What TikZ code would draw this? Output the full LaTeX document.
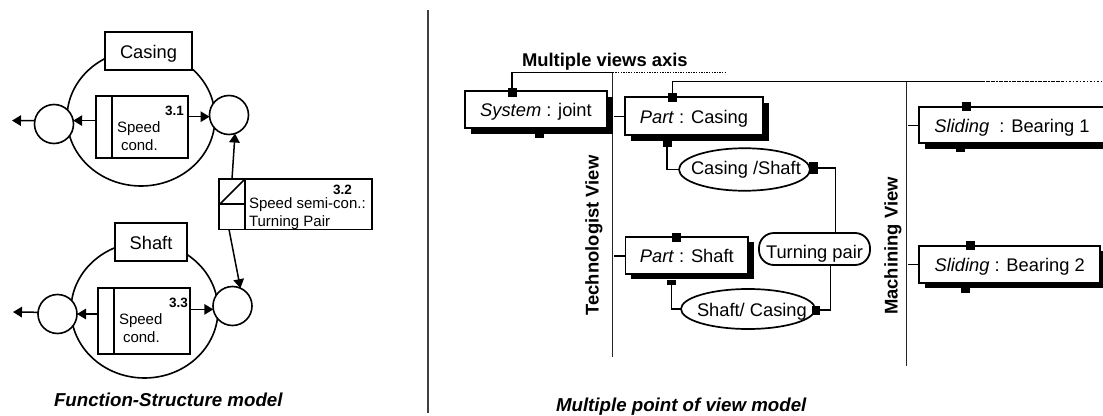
\documentclass[tikz,border=0pt]{standalone}
\usepackage{fontspec}
\setmainfont{Liberation Sans}
\usetikzlibrary{arrows.meta,shapes.geometric,shadows}
\tikzset{
  big/.style={font=\fontsize{18.3}{20}\selectfont},
  small/.style={font=\fontsize{15}{17}\selectfont},
  numb/.style={font=\fontsize{13.5}{15}\bfseries\selectfont},
  lab/.style={inner sep=0pt,outer sep=0pt,anchor=base west},
  ln/.style={line width=1.5pt,draw=black},
  outerring/.style={ellipse,draw,line width=1.6pt,inner sep=0pt,outer sep=0pt},
  port/.style={circle,draw,fill=white,line width=1.6pt,minimum size=39pt,inner sep=0pt,outer sep=0pt},
  plain/.style={rectangle,draw,fill=white,line width=1.7pt,inner sep=0pt,outer sep=0pt},
  tag/.style={plain,big,text height=14pt,text depth=0pt},
  view/.style={plain,big,line width=1.8pt,text height=14pt,text depth=0pt,
     drop shadow={shadow xshift=5.5pt,shadow yshift=-5.5pt,fill=black,opacity=1}},
  oval/.style={ellipse,draw,fill=white,line width=1.7pt,inner sep=0pt,outer sep=0pt},
  sq/.style={rectangle,fill=black,inner sep=0pt,outer sep=0pt},
  arr/.style={ln,-{Triangle[length=9pt,width=10.5pt]}},
  axisline/.style={line width=1.5pt,draw=black!85},
}
\begin{document}
\begin{tikzpicture}[x=1pt,y=-1pt]
\clip (0,0) rectangle (1103,415);
% page separator
\coordinate (s1) at (428,9.5); \coordinate (s2) at (428,413);
\draw[line width=1.7pt,black!75] (s1) -- (s2);

% ---------- function-structure: casing
\node[outerring,minimum width=148pt,minimum height=136pt] (ring1) at (141,118) {};
\node[tag,minimum width=87pt,minimum height=38pt] (casing) at (148.5,51) {Casing};
\node[plain,minimum width=92pt,minimum height=62pt] (b31) at (142,127) {};
\draw[line width=1.7pt] (112,96) -- (112,158);
\node[numb,inner sep=0pt,anchor=base east] (n31) at (184,115) {3.1};
\node[small,lab] (t31a) at (117,132) {Speed};
\node[small,lab] (t31b) at (121,150) {cond.};
\node[port] (r1) at (229,115) {};
\node[port] (l1) at (54,124) {};
\coordinate (o1) at (12,120.6);
\draw[arr] (b31.west |- l1.10) -- (l1.10);
\draw[arr] (l1.170) -- (o1);
\draw[arr] (b31.east |- r1.185) -- (r1.185);

% ---------- function-structure: shaft
\node[outerring,minimum width=147pt,minimum height=136pt] (ring2) at (144.5,310) {};
\node[tag,minimum width=72pt,minimum height=38pt] (shaft) at (151,242) {Shaft};
\node[plain,minimum width=92pt,minimum height=66pt] (b33) at (144,321) {};
\draw[line width=1.7pt] (114,288) -- (114,354);
\node[numb,inner sep=0pt,anchor=base east] (n33) at (188,307) {3.3};
\node[small,lab] (t33a) at (119,324) {Speed};
\node[small,lab] (t33b) at (123,342) {cond.};
\node[port] (r2) at (232.5,306) {};
\node[port] (l2) at (57.5,314) {};
\coordinate (o2) at (13,312);
\draw[arr] (b33.west |- l2.east) -- (l2.east);
\draw[arr] (l2.175) -- (o2);
\draw[arr] (b33.east |- r2.190) -- (r2.190);

% ---------- function 3.2
\node[plain,minimum width=153pt,minimum height=50.5pt] (b32) at (295.5,204.25) {};
\draw[line width=1.7pt] (245,179) -- (245,229.5);
\draw[line width=1.7pt] (219,204) -- (245,204);
\draw[line width=1.7pt] (220,204) -- (245,179);
\node[numb,inner sep=0pt,anchor=base east] (n32) at (352,194) {3.2};
\node[small,lab] (t32a) at (249,208) {Speed semi-con.:};
\node[small,lab] (t32b) at (249,226.5) {Turning Pair};
\coordinate (p1) at (232,179);
\coordinate (p2) at (229,229.5);
\draw[arr] (p1) -- (r1.-72);
\draw[arr] (p2) -- (r2.66);

% captions
\node[lab,font=\fontsize{18.7}{20}\bfseries\itshape\selectfont] (cap1) at (54,406) {Function-Structure model};
\node[lab,font=\fontsize{18.7}{20}\bfseries\itshape\selectfont] (cap2) at (556,411.5) {Multiple point of view model};

% ---------- multiple views axis
\node[lab,font=\fontsize{18.4}{20}\bfseries\selectfont] (axis) at (522,66.7) {Multiple views axis};
\coordinate (a1) at (612.7,72.7);
\coordinate (a2) at (605,72.7);
\coordinate (a3) at (725,72.7);
\coordinate (v1) at (612.7,357);
\coordinate (m1) at (906.7,81.5);
\coordinate (m2) at (906.7,365.7);
\coordinate (c1) at (983,81.5);
\coordinate (c2) at (1062,81.5);
\coordinate (c3) at (1103,81.5);

% vertical axes
\draw[axisline] (a1) -- (v1);
\draw[axisline] (m1) -- (m2);
\node[inner sep=0pt,anchor=base,rotate=90,font=\fontsize{18.4}{20}\bfseries\selectfont] (tv) at (598.5,235.5) {Technologist View};
\node[inner sep=0pt,anchor=base,rotate=90,font=\fontsize{18.4}{20}\bfseries\selectfont] (mv) at (897.5,246) {Machining View};

% view boxes
\node[view,minimum width=142pt,minimum height=37pt] (sys) at (536,109.5) {\textit{System} : joint};
\node[view,minimum width=138pt,minimum height=38pt] (pc) at (694,116) {\textit{Part} : Casing};
\node[view,minimum width=122.5pt,minimum height=37.3pt] (ps) at (686.8,255.3) {\textit{Part} : Shaft};
\node[view,minimum width=186pt,minimum height=36.6pt] (b1) at (1012,125) {\textit{Sliding}\ \ : Bearing 1};
\node[view,minimum width=180.7pt,minimum height=37pt] (b2) at (1009.7,264.2) {\textit{Sliding} : Bearing 2};

% ovals
\node[oval,minimum width=131pt,minimum height=42.5pt] (cs) at (744.5,169.5) {};
\node[big,lab] (cst) at (691,174.5) {Casing /Shaft};
\node[oval,minimum width=134pt,minimum height=40pt] (sc) at (748,309) {};
\node[big,lab] (sct) at (697,316.5) {Shaft/ Casing};
\node[rectangle,draw,fill=white,line width=1.8pt,rounded corners=15pt,inner sep=0pt,outer sep=0pt,big,
  minimum width=111pt,minimum height=32pt,text height=18pt,text depth=0pt] (tp) at (814.5,249) {Turning pair};

% handles
\node[sq,minimum width=9pt,minimum height=9pt] (h1) at (512,92) {};
\node[sq,minimum width=9pt,minimum height=5pt] (h1b) at (539,135) {};
\node[sq,minimum width=9pt,minimum height=9pt] (h2) at (672.7,97) {};
\node[sq,minimum width=9pt,minimum height=6pt] (h2b) at (667,143.5) {};
\node[sq,minimum width=9pt,minimum height=12pt] (h3) at (813,168) {};
\node[sq,minimum width=9pt,minimum height=9pt] (h4) at (676,237) {};
\node[sq,minimum width=9pt,minimum height=5pt] (h4b) at (671.7,282) {};
\node[sq,minimum width=8pt,minimum height=9pt] (h5) at (815.7,310) {};
\node[sq,minimum width=9pt,minimum height=9pt] (h6) at (966.7,106.7) {};
\node[sq,minimum width=9pt,minimum height=3pt] (h6b) at (960.7,150) {};
\node[sq,minimum width=9pt,minimum height=9pt] (h7) at (970,245.7) {};
\node[sq,minimum width=9pt,minimum height=5pt] (h7b) at (965,290) {};

% connectors
\draw[ln] (h1.north) |- (a1);
\draw[line width=1.3pt,dash pattern=on 1.3pt off 1.3pt] (a2) -- (a3);
\draw[ln] (h2.north) |- (c1);
\draw[line width=1.4pt,dash pattern=on 2pt off 0.6pt] (c1) -- (c2);
\draw[line width=1.3pt,dash pattern=on 1.5pt off 2pt] (c2) -- (c3);
\coordinate (tk1) at (614,116.5);
\draw[ln] (tk1) -- (pc.west |- tk1);
\coordinate (tk2) at (614,256);
\draw[ln] (tk2) -- (ps.west |- tk2);
\coordinate (tk3) at (908,125.3);
\draw[ln] (tk3) -- (b1.west |- tk3);
\coordinate (tk4) at (908,264.3);
\draw[ln] (tk4) -- (b2.west |- tk4);
\draw[ln] (h2b.south) |- (cs.west);
\draw[ln] (h4b.south) |- (sc.west);
\coordinate (j1) at (835.7,168);
\coordinate (j2) at (830.7,310);
\draw[ln] (h3.east) -- (j1) -- (j1 |- tp.north);
\draw[ln] (h5.east) -- (j2) -- (j2 |- tp.south);
\end{tikzpicture}
\end{document}
